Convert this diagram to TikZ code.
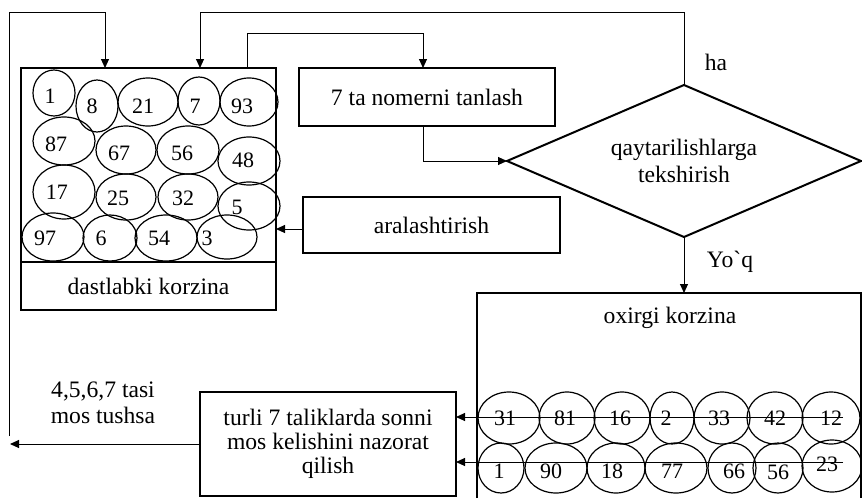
\documentclass[tikz,border=0pt]{standalone}
\usepackage{fontspec}
\newfontfamily\tnr{Liberation Serif}
\usetikzlibrary{arrows.meta,shapes.geometric,calc}
\begin{document}
\begin{tikzpicture}[x=0.5pt,y=-0.5pt,
  font=\tnr\fontsize{11.8}{13}\selectfont,
  box/.style={draw,line width=1pt,rectangle,inner sep=0pt,outer sep=0pt},
  thickline/.style={line width=1pt},
  conn/.style={line width=0.5pt},
  arr/.style={conn,-{Triangle[length=4.5pt,width=4pt]}},
  ball/.style={line width=0.6pt},
  num/.style={inner sep=0pt,font=\tnr\fontsize{11}{12}\selectfont},
  lbl/.style={inner sep=0pt,align=center}]
\useasboundingbox (0,0) rectangle (862,498);

% left basket
\node[box,minimum width=127.5pt,minimum height=121pt] (lbox) at (148.5,189) {};
\draw[thickline] (21,262) -- (276,262);
\node[lbl] (dk) at (148.5,286) {dastlabki korzina};
\foreach \cx/\cy/\rx/\ry in {54/93/21/23,97/106/21/26,148/102/30/24,199/101/21/24,249/102/29/24,
  64/141/31/24,126/150/30/24,188/150/31/24,249/161/31/24,
  64/192/31/27,126/197/30/23,188/197/30/23,249/206/31/24,
  53/237/31/24,110/238/27/23,166/238/31/23,227/237/30/22}
  \draw[ball] (\cx,\cy) ellipse [x radius={\rx*0.5pt}, y radius={\ry*0.5pt}];
\foreach \tx/\ty/\t [count=\i] in {50/96/1,92/106/8,143/106/21,195/106/7,242/106/93,
  56/144/87,119/153/67,182/153/56,243/160/48,
  57/192/17,118/198/25,183/198/32,237/207/5,
  45/238/97,101/238/6,159/238/54,207/238/3}
  \node[num] (l\i) at (\tx,\ty) {\t};

% process boxes
\node[box,minimum width=128pt,minimum height=29pt] (tanl) at (427,97) {7 ta nomerni tanlash};
\node[box,minimum width=128.5pt,minimum height=28pt] (aral) at (431.5,225) {aralashtirish};
\node[draw,diamond,aspect=2.33,line width=1pt,minimum width=177pt,minimum height=76pt,
  inner sep=0pt,outer sep=0pt,align=center,font=\tnr\fontsize{11.8}{13.5}\selectfont]
  (dia) at (684,161) {qaytarilishlarga\\tekshirish};
\node[box,align=center,minimum width=128pt,minimum height=52pt,
  font=\tnr\fontsize{11.8}{12}\selectfont] (turli) at (328,444)
  {turli 7 taliklarda sonni\\mos kelishini nazorat\\qilish};

% final basket
\node[inner sep=0pt,outer sep=0pt,minimum width=192pt,minimum height=102.5pt] (oxir) at (669,395.5) {};
\draw[thickline] (oxir.south west) -- (oxir.north west) -- (oxir.north east) -- (oxir.south east);
\node[lbl] (oxl) at (670,318) {oxirgi korzina};
\foreach \cx/\cy/\rx/\ry in {509/418/31/26,567/418/28/26,622/418/28/26,672/418/22/26,722/418/28/26,775/418/28/26,831/418/29/26,
  501/468/23/25,556/468/31/25,616/468/29/25,676/468/31/25,732/468/24/25,778/468/25/25,832/466/30/26}
  \draw[ball] (\cx,\cy) ellipse [x radius={\rx*0.5pt}, y radius={\ry*0.5pt}];
\foreach \tx/\ty/\t [count=\i] in {505/418/31,565/418/81,620/418/16,666/418/2,719/418/33,775/418/42,831/418/12,
  499/471/1,551/471/90,612/471/18,672/471/77,734/471/66,778/472/56,827/464/23}
  \node[num] (r\i) at (\tx,\ty) {\t};

% labels
\node[lbl] (ha) at (716,62) {ha};
\node[lbl] (yoq) at (730,262) {Yo`q};
\node[lbl] (mos) at (103,403) {4,5,6,7 tasi\\mos tushsa};

% connectors
\coordinate (lb) at (9,436);
\coordinate (c1) at (105,12);
\draw[arr] (lb) |- (c1) -- (c1 |- lbox.north);
\coordinate (c2) at (200,12);
\draw[arr] (dia.north) |- (c2) -- (c2 |- lbox.north);
\coordinate (c3a) at (247,33);
\coordinate (c3b) at (423,33);
\draw[arr] (c3a |- lbox.north) -- (c3a) -- (c3b) -- (c3b |- tanl.north);
\coordinate (c4) at (423,130);
\draw[arr] (c4 |- tanl.south) |- (dia.west);
\coordinate (a5) at ($(aral.west)+(0,4)$);
\draw[arr] (a5) -- (a5 -| lbox.east);
\draw[arr] (dia.south) -- (dia.south |- oxir.north);
\coordinate (s1) at (843,417);
\coordinate (s2) at (843,462);
\draw[arr] (s1) -- (s1 -| turli.east);
\draw[arr] (s2) -- (s2 -| turli.east);
\coordinate (le) at (10,444);
\draw[arr] (turli.west) -- (turli.west -| le);
\end{tikzpicture}
\end{document}
